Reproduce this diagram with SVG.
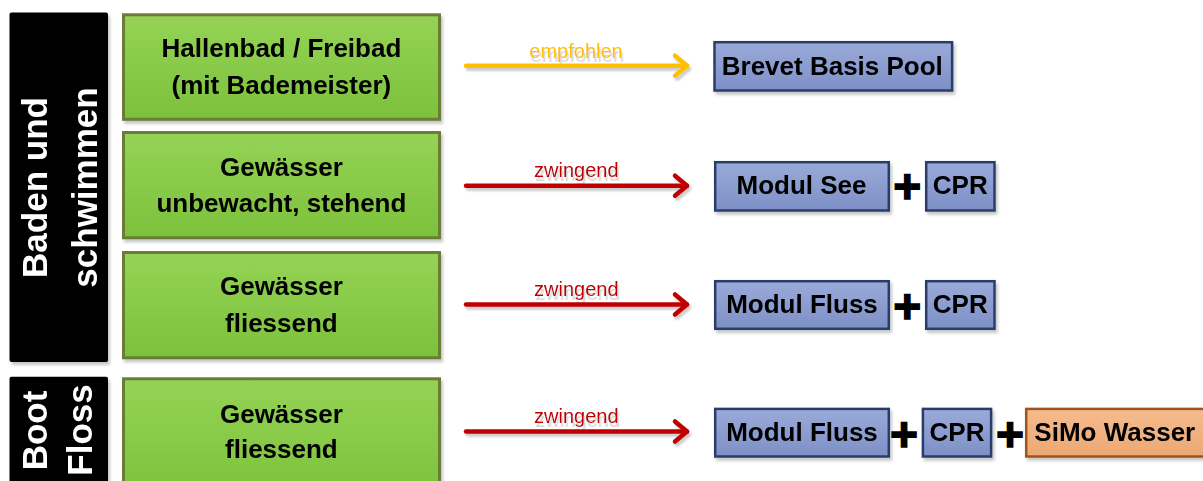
<svg xmlns="http://www.w3.org/2000/svg" width="1203" height="481" viewBox="0 0 1203 481">
<defs>
<linearGradient id="gGreen" x1="0" y1="0" x2="0" y2="1"><stop offset="0" stop-color="#95d356"/><stop offset="1" stop-color="#7cc13b"/></linearGradient>
<linearGradient id="gBlue" x1="0" y1="0" x2="0" y2="1"><stop offset="0" stop-color="#9aaad9"/><stop offset="1" stop-color="#7d90c6"/></linearGradient>
<linearGradient id="gOrange" x1="0" y1="0" x2="0" y2="1"><stop offset="0" stop-color="#f5bb8e"/><stop offset="1" stop-color="#eca873"/></linearGradient>
<filter id="sh" x="-10%" y="-10%" width="130%" height="140%"><feDropShadow dx="2" dy="3" stdDeviation="1.5" flood-color="#000" flood-opacity="0.22"/></filter>
<filter id="shL" filterUnits="userSpaceOnUse" x="0" y="0" width="1203" height="481"><feDropShadow dx="2" dy="3" stdDeviation="1.2" flood-color="#000" flood-opacity="0.2"/></filter>
<filter id="shT" x="-5%" y="-10%" width="115%" height="150%"><feDropShadow dx="1.5" dy="4" stdDeviation="0.4" flood-color="#d6d6d6" flood-opacity="1"/></filter>
<marker id="ahY" markerUnits="userSpaceOnUse" viewBox="-16 -13 20 26" refX="0" refY="0" markerWidth="20" markerHeight="26" orient="auto" overflow="visible"><path d="M-12,-10 L0,0 L-12,10" fill="none" stroke="#ffc000" stroke-width="4.5" stroke-linecap="round" stroke-linejoin="round"/></marker>
<marker id="ahR" markerUnits="userSpaceOnUse" viewBox="-16 -13 20 26" refX="0" refY="0" markerWidth="20" markerHeight="26" orient="auto" overflow="visible"><path d="M-12,-10 L0,0 L-12,10" fill="none" stroke="#c00000" stroke-width="4.5" stroke-linecap="round" stroke-linejoin="round"/></marker>
</defs>
<style>
.cat{fill:#000;}
.cattx{font-family:"Liberation Sans",Arial,sans-serif;font-weight:bold;font-size:35px;fill:#fff;text-anchor:middle;}
.gbox{fill:url(#gGreen);stroke:#6b7b37;stroke-width:3;}
.bbox{fill:url(#gBlue);stroke:#2c3c6a;stroke-width:2.5;}
.obox{fill:url(#gOrange);stroke:#a2521c;stroke-width:2.5;}
.t{font-family:"Liberation Sans",Arial,sans-serif;font-weight:bold;font-size:26px;fill:#000;text-anchor:middle;}
.plus{font-family:"Liberation Sans",Arial,sans-serif;font-weight:bold;font-size:48px;fill:#000;stroke:#000;stroke-width:1.4;text-anchor:middle;}
.lbl{font-family:"Liberation Sans",Arial,sans-serif;font-size:20px;text-anchor:middle;filter:url(#shT);}
.ay{stroke:#ffc000;stroke-width:4.5;stroke-linecap:round;fill:none;marker-end:url(#ahY);}
.ar{stroke:#c00000;stroke-width:4.5;stroke-linecap:round;fill:none;marker-end:url(#ahR);}
</style>
<rect width="1203" height="481" fill="#fff"/>

<g id="cat-baden" filter="url(#sh)">
<rect class="cat" x="9.5" y="12.5" width="98.5" height="349.5" rx="2"/>
<text class="cattx" transform="translate(46.5,187.5) rotate(-90)">Baden und</text>
<text class="cattx" transform="translate(96.5,187.5) rotate(-90)">schwimmen</text>
</g>
<g id="cat-boot" filter="url(#sh)">
<rect class="cat" x="9.5" y="376.7" width="98.5" height="120" rx="2"/>
<text class="cattx" transform="translate(46.5,430.5) rotate(-90)">Boot</text>
<text class="cattx" transform="translate(91.5,430) rotate(-90)">Floss</text>
</g>

<g id="src-hallenbad" filter="url(#sh)">
<rect class="gbox" x="123.5" y="14.8" width="316" height="104.5"/>
<text class="t" x="281.4" y="56.7">Hallenbad / Freibad</text>
<text class="t" x="281.4" y="94">(mit Bademeister)</text>
</g>
<g id="src-stehend" filter="url(#sh)">
<rect class="gbox" x="123.5" y="132.5" width="316" height="105.3"/>
<text class="t" x="281.4" y="175.7">Gewässer</text>
<text class="t" x="281.4" y="212">unbewacht, stehend</text>
</g>
<g id="src-fliessend" filter="url(#sh)">
<rect class="gbox" x="123.5" y="252.5" width="316" height="105.3"/>
<text class="t" x="281.4" y="295">Gewässer</text>
<text class="t" x="281.4" y="332">fliessend</text>
</g>
<g id="src-boot-fliessend" filter="url(#sh)">
<rect class="gbox" x="123.5" y="378.8" width="316" height="120"/>
<text class="t" x="281.4" y="422.7">Gewässer</text>
<text class="t" x="281.4" y="458">fliessend</text>
</g>

<g id="connectors">
<g id="c1">
<text class="lbl" x="576" y="57.5" fill="#ffc000">empfohlen</text>
<line class="ay" x1="466" y1="65.7" x2="687" y2="65.7" filter="url(#shL)"/>
</g>
<g id="c2">
<text class="lbl" x="576.3" y="176.7" fill="#c00000">zwingend</text>
<line class="ar" x1="466" y1="185.7" x2="687" y2="185.7" filter="url(#shL)"/>
</g>
<g id="c3">
<text class="lbl" x="576.3" y="295.5" fill="#c00000">zwingend</text>
<line class="ar" x1="466" y1="304.5" x2="687" y2="304.5" filter="url(#shL)"/>
</g>
<g id="c4">
<text class="lbl" x="576.3" y="422.5" fill="#c00000">zwingend</text>
<line class="ar" x1="466" y1="431.5" x2="687" y2="431.5" filter="url(#shL)"/>
</g>
</g>

<g id="dst-brevet" filter="url(#sh)">
<rect class="bbox" x="714.5" y="42.2" width="237.6" height="48.3"/>
<text class="t" x="832.3" y="75">Brevet Basis Pool</text>
</g>

<g id="dst-row2">
<g id="dst-modul-see" filter="url(#sh)">
<rect class="bbox" x="715.2" y="162.2" width="173.6" height="48.3"/>
<text class="t" x="801.5" y="194">Modul See</text>
</g>
<text class="plus" x="907.3" y="202.5">+</text>
<g id="dst-cpr-2" filter="url(#sh)">
<rect class="bbox" x="926.2" y="162.2" width="68.3" height="48.3"/>
<text class="t" x="960.3" y="194">CPR</text>
</g>
</g>

<g id="dst-row3">
<g id="dst-modul-fluss" filter="url(#sh)">
<rect class="bbox" x="715.2" y="281.2" width="173.6" height="47.6"/>
<text class="t" x="802" y="313.2">Modul Fluss</text>
</g>
<text class="plus" x="907.3" y="323">+</text>
<g id="dst-cpr-3" filter="url(#sh)">
<rect class="bbox" x="926.2" y="281.2" width="68.3" height="47.6"/>
<text class="t" x="960.3" y="313.2">CPR</text>
</g>
</g>

<g id="dst-row4">
<g id="dst-modul-fluss-4" filter="url(#sh)">
<rect class="bbox" x="715.2" y="408.9" width="173.6" height="47.6"/>
<text class="t" x="802" y="440.5">Modul Fluss</text>
</g>
<text class="plus" x="904" y="451">+</text>
<g id="dst-cpr-4" filter="url(#sh)">
<rect class="bbox" x="922.9" y="408.9" width="68.2" height="47.6"/>
<text class="t" x="957" y="440.5">CPR</text>
</g>
<text class="plus" x="1010" y="451">+</text>
<g id="dst-simo" filter="url(#sh)">
<rect class="obox" x="1026.2" y="408.9" width="190" height="47.6"/>
<text class="t" x="1114.8" y="440.5">SiMo Wasser</text>
</g>
</g>
</svg>
